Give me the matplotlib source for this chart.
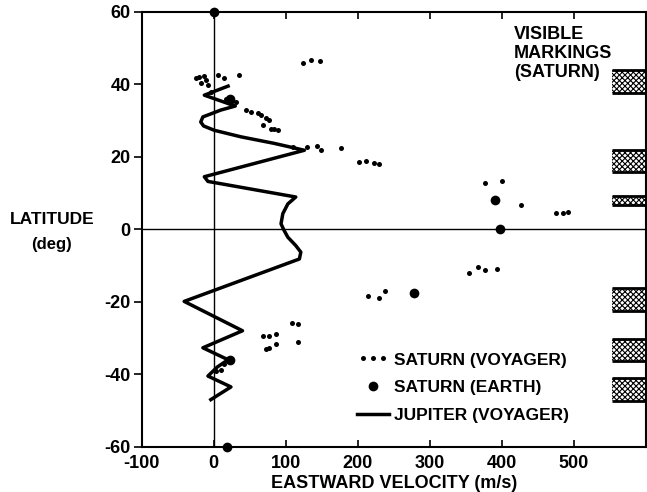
import matplotlib
matplotlib.use("Agg")
import matplotlib.pyplot as plt
from matplotlib.lines import Line2D
from matplotlib.legend_handler import HandlerLine2D

plt.rcParams["font.family"] = ["Liberation Sans", "DejaVu Sans"]
plt.rcParams["font.weight"] = "bold"
plt.rcParams["axes.unicode_minus"] = False
plt.rcParams["hatch.linewidth"] = 0.8

# Jupiter (Voyager) zonal wind profile
jup_lat = [39.5, 37, 34, 32.9, 31, 29.6, 28.5, 27.3, 25.5, 23.7, 21.8, 14.5, 13.2, 8.9, 7, 4.3,
           1.5, -0.4, -2.2, -4.5, -6.3, -8.2, -19.9, -28, -32.7, -36, -38, -40.5, -43.5, -47]
jup_u = [20, -13, 30, 10, -15, -18, -14, 1, 38, 84, 126, -13, -8, 114, 103, 96,
         93.5, 98, 103, 114, 121, 119, -41, 40, -15, 20, 5, -8, 24, -4]

# Saturn (Voyager) cloud-tracked winds
voy_u = [-25, -20, -13, -11, 5.5, 15, 35.6, -18, -8, -4,
         124, 135, 148, 17, 26, 31,
         45, 52, 61, 66, 73, 77, 68, 80, 89, 84,
         110, 130, 144, 149, 177, 202, 212, 223, 229,
         377, 400, 427, 476, 485, 492,
         354, 367, 377, 394, 215, 229, 238,
         109, 117, 117, 68, 77, 86, 73, 77, 86,
         15, 10, 3]
voy_lat = [41.7, 42.1, 42.3, 41.2, 42.6, 41.7, 42.6, 40.3, 39.8, 38,
           46, 46.7, 46.3, 35.9, 35.4, 35.1,
           32.9, 32.4, 32.1, 31.5, 30.6, 30.1, 28.7, 27.8, 27.3, 27.8,
           22.7, 22.7, 22.9, 22, 22.3, 18.6, 18.8, 18.3, 17.9,
           12.7, 13.2, 6.6, 4.4, 4.6, 4.8,
           -12.1, -10.3, -11.2, -11, -18.4, -19.1, -17,
           -25.8, -26.2, -31.1, -29.4, -29.4, -29, -33.1, -32.7, -31.7,
           -37.3, -38.7, -39.1]

# Saturn (Earth-based) measurements
earth_u = [0, 19, 391, 397, 278, 22, 22]
earth_lat = [60, -60, 8, 0, -17.5, -36, 36]

# visible markings (latitude bands)
band_lo = [37.5, 15.8, 6.8, -22.5, -36.4, -47.5]
band_hi = [44, 21.8, 9.3, -16.1, -30.4, -41]
band_x0, band_x1 = 553, 600

fig = plt.figure(figsize=(6.47, 4.92), dpi=100)
ax = fig.add_axes([0.219, 0.092, 0.779, 0.884])
ax.set_xlim(-100, 600)
ax.set_ylim(-60, 60)

ax.axhline(0, color="black", lw=1)
ax.axvline(0, color="black", lw=1)

ax.plot(jup_u, jup_lat, color="black", lw=2.5, solid_joinstyle="round")
ax.plot(voy_u, voy_lat, "o", color="black", ms=3.6, mew=0)
ax.plot(earth_u, earth_lat, "o", color="black", ms=7, mew=0, clip_on=False, zorder=5)

for lo, hi in zip(band_lo, band_hi):
    ax.fill_between([band_x0, band_x1], lo, hi, facecolor="white", edgecolor="black",
                    hatch="xxxxxx", lw=0)
    ax.hlines([lo, hi], band_x0, band_x1, color="black", lw=2)

ax.text(417, 56, "VISIBLE\nMARKINGS\n(SATURN)", ha="left", va="top",
        fontsize=13, fontweight="bold", linespacing=1.15)

h_voy = Line2D([], [], ls="none", marker="o", color="black", ms=3.6, mew=0)
h_earth = Line2D([], [], ls="none", marker="o", color="black", ms=7, mew=0)
h_jup = Line2D([], [], color="black", lw=2.5)
ax.legend([h_voy, h_earth, h_jup],
          ["SATURN (VOYAGER)", "SATURN (EARTH)", "JUPITER (VOYAGER)"],
          handler_map={h_voy: HandlerLine2D(numpoints=3), h_earth: HandlerLine2D(numpoints=1)},
          loc="upper left", bbox_to_anchor=(0.428, 0.217), frameon=False,
          handlelength=1.8, handletextpad=0.3, labelspacing=0.72,
          prop={"size": 12.5, "weight": "bold"}, borderpad=0, borderaxespad=0)

ax.set_xticks([-100, 0, 100, 200, 300, 400, 500])
ax.set_yticks([-60, -40, -20, 0, 20, 40, 60])
ax.tick_params(axis="x", direction="in", top=True, length=5, width=1.2,
               labelsize=13, pad=6)
ax.tick_params(axis="y", direction="out", length=6, width=1.2, labelsize=13, pad=2)
for lab in ax.get_xticklabels() + ax.get_yticklabels():
    lab.set_fontweight("bold")
for s in ax.spines.values():
    s.set_linewidth(1.5)

ax.set_xlabel("EASTWARD VELOCITY (m/s)", fontsize=13, fontweight="bold", labelpad=2)
fig.text(0.080, 0.553, "LATITUDE", ha="center", va="center", fontsize=12.5, fontweight="bold")
fig.text(0.080, 0.503, "(deg)", ha="center", va="center", fontsize=12, fontweight="bold")

fig.savefig("out.png", dpi=100, facecolor="white")
